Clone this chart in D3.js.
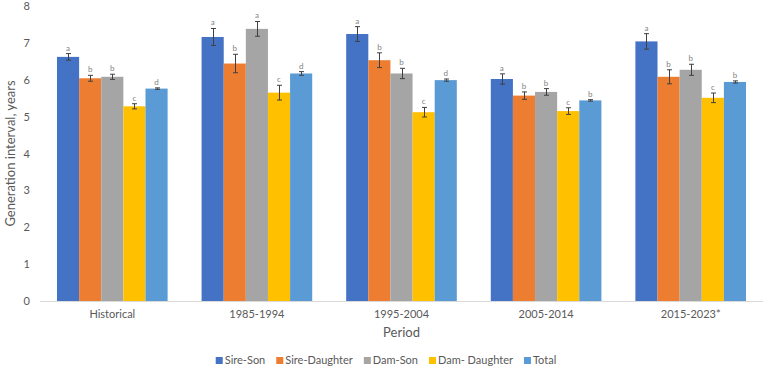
<!DOCTYPE html>
<html>
<head>
<meta charset="utf-8">
<script src="https://cdn.jsdelivr.net/npm/d3@7"></script>
<style>
  body { margin: 0; background: #fff; }
  svg text { font-family: Lato, "Open Sans", sans-serif; }
</style>
</head>
<body>
<svg id="chart" width="767" height="370"></svg>
<script>
// periods on the x axis
var periods = ["Historical", "1985-1994", "1995-2004", "2005-2014", "2015-2023*"];
var seriesNames = ["Sire-Son", "Sire-Daughter", "Dam-Son", "Dam- Daughter", "Total"];
var colors = ["#4472C4", "#ED7D31", "#A5A5A5", "#FFC000", "#5B9BD5"];

// mean generation interval, one array per series
var sireSon      = [6.62, 7.16, 7.24, 6.02, 7.04];
var sireDaughter = [6.04, 6.44, 6.53, 5.57, 6.08];
var damSon       = [6.08, 7.38, 6.17, 5.67, 6.27];
var damDaughter  = [5.28, 5.65, 5.12, 5.15, 5.51];
var total        = [5.76, 6.17, 5.99, 5.44, 5.94];

// error bar half widths
var errSireSon      = [0.09, 0.23, 0.20, 0.14, 0.21];
var errSireDaughter = [0.08, 0.25, 0.20, 0.10, 0.19];
var errDamSon       = [0.07, 0.20, 0.14, 0.09, 0.15];
var errDamDaughter  = [0.07, 0.20, 0.13, 0.09, 0.13];
var errTotal        = [0.02, 0.05, 0.03, 0.02, 0.03];

// significance letters
var letSireSon      = ["a", "a", "a", "a", "a"];
var letSireDaughter = ["b", "b", "b", "b", "b"];
var letDamSon       = ["b", "a", "b", "b", "b"];
var letDamDaughter  = ["c", "c", "c", "c", "c"];
var letTotal        = ["d", "d", "d", "b", "b"];

var yTicks = [0, 1, 2, 3, 4, 5, 6, 7, 8];

var values = [sireSon, sireDaughter, damSon, damDaughter, total];
var errors = [errSireSon, errSireDaughter, errDamSon, errDamDaughter, errTotal];
var letters = [letSireSon, letSireDaughter, letDamSon, letDamDaughter, letTotal];

var svg = d3.select("#chart");
var plotL = 40, plotR = 763, plotT = 6, plotB = 301;

var x0 = d3.scaleBand().domain(periods).range([plotL, plotR]).paddingInner(0.235).paddingOuter(0.1175);
var x1 = d3.scaleBand().domain(seriesNames).range([0, x0.bandwidth()]);
var y = d3.scaleLinear().domain([0, 8]).range([plotB, plotT]);

// y axis labels (no line)
var yAxis = svg.append("g")
  .attr("transform", "translate(" + (plotL - 6) + ",0)")
  .call(d3.axisLeft(y).tickValues(yTicks).tickSize(0).tickPadding(4));
yAxis.select(".domain").remove();
yAxis.selectAll("text").attr("fill", "#595959").style("font-size", "11px");

// data
var rows = [];
for (var s = 0; s < seriesNames.length; s++) {
  for (var i = 0; i < periods.length; i++) {
    rows.push({period: periods[i], series: seriesNames[s], s: s,
      value: values[s][i], err: errors[s][i], letter: letters[s][i]});
  }
}

svg.append("g").selectAll("rect")
  .data(rows)
  .enter().append("rect")
  .attr("x", function(d) { return x0(d.period) + x1(d.series); })
  .attr("width", x1.bandwidth())
  .attr("y", function(d) { return y(d.value); })
  .attr("height", function(d) { return y(0) - y(d.value); })
  .attr("fill", function(d) { return colors[d.s]; });

// error bars
var eb = svg.append("g").attr("stroke", "#404040").attr("stroke-width", 1);
rows.forEach(function(d) {
  var cx = Math.round(x0(d.period) + x1(d.series) + x1.bandwidth() / 2) + 0.5;
  var y1 = y(d.value + d.err), y2 = y(d.value - d.err);
  eb.append("line").attr("x1", cx).attr("x2", cx).attr("y1", y1).attr("y2", y2);
  eb.append("line").attr("x1", cx - 2.5).attr("x2", cx + 2.5).attr("y1", y1).attr("y2", y1);
  eb.append("line").attr("x1", cx - 2.5).attr("x2", cx + 2.5).attr("y1", y2).attr("y2", y2);
});

// letters
svg.append("g").selectAll("text")
  .data(rows)
  .enter().append("text")
  .attr("x", function(d) { return x0(d.period) + x1(d.series) + x1.bandwidth() / 2; })
  .attr("y", function(d) { return y(d.value + d.err) - 3; })
  .attr("text-anchor", "middle")
  .attr("fill", "#7f7f7f")
  .style("font-size", "8px")
  .text(function(d) { return d.letter; });

// x axis
var xAxis = svg.append("g")
  .attr("transform", "translate(0," + plotB + ")")
  .call(d3.axisBottom(x0).tickSize(0).tickPadding(9));
xAxis.select(".domain").attr("stroke", "#d9d9d9").attr("d", "M" + plotL + ",0.5H" + plotR);
xAxis.selectAll("text").attr("fill", "#595959").style("font-size", "11px");

// axis titles
svg.append("text")
  .attr("x", (plotL + plotR) / 2).attr("y", 337)
  .attr("text-anchor", "middle").attr("fill", "#595959")
  .style("font-size", "13px").text("Period");

svg.append("text")
  .attr("transform", "translate(15," + ((plotT + plotB) / 2) + ") rotate(-90)")
  .attr("text-anchor", "middle").attr("fill", "#595959")
  .style("font-size", "13px").text("Generation interval, years");

// legend
var legend = svg.append("g");
var lx = 0;
seriesNames.forEach(function(name, i) {
  var g = legend.append("g").attr("transform", "translate(" + lx + ",0)");
  g.append("rect").attr("x", 0).attr("y", -7).attr("width", 7).attr("height", 7).attr("fill", colors[i]);
  var t = g.append("text").attr("x", 9).attr("y", 0).attr("fill", "#595959")
    .style("font-size", "11px").text(name);
  lx += 9 + t.node().getComputedTextLength() + 11;
});
lx -= 11;
legend.attr("transform", "translate(" + (386 - lx / 2) + ",364)");
</script>
</body>
</html>
